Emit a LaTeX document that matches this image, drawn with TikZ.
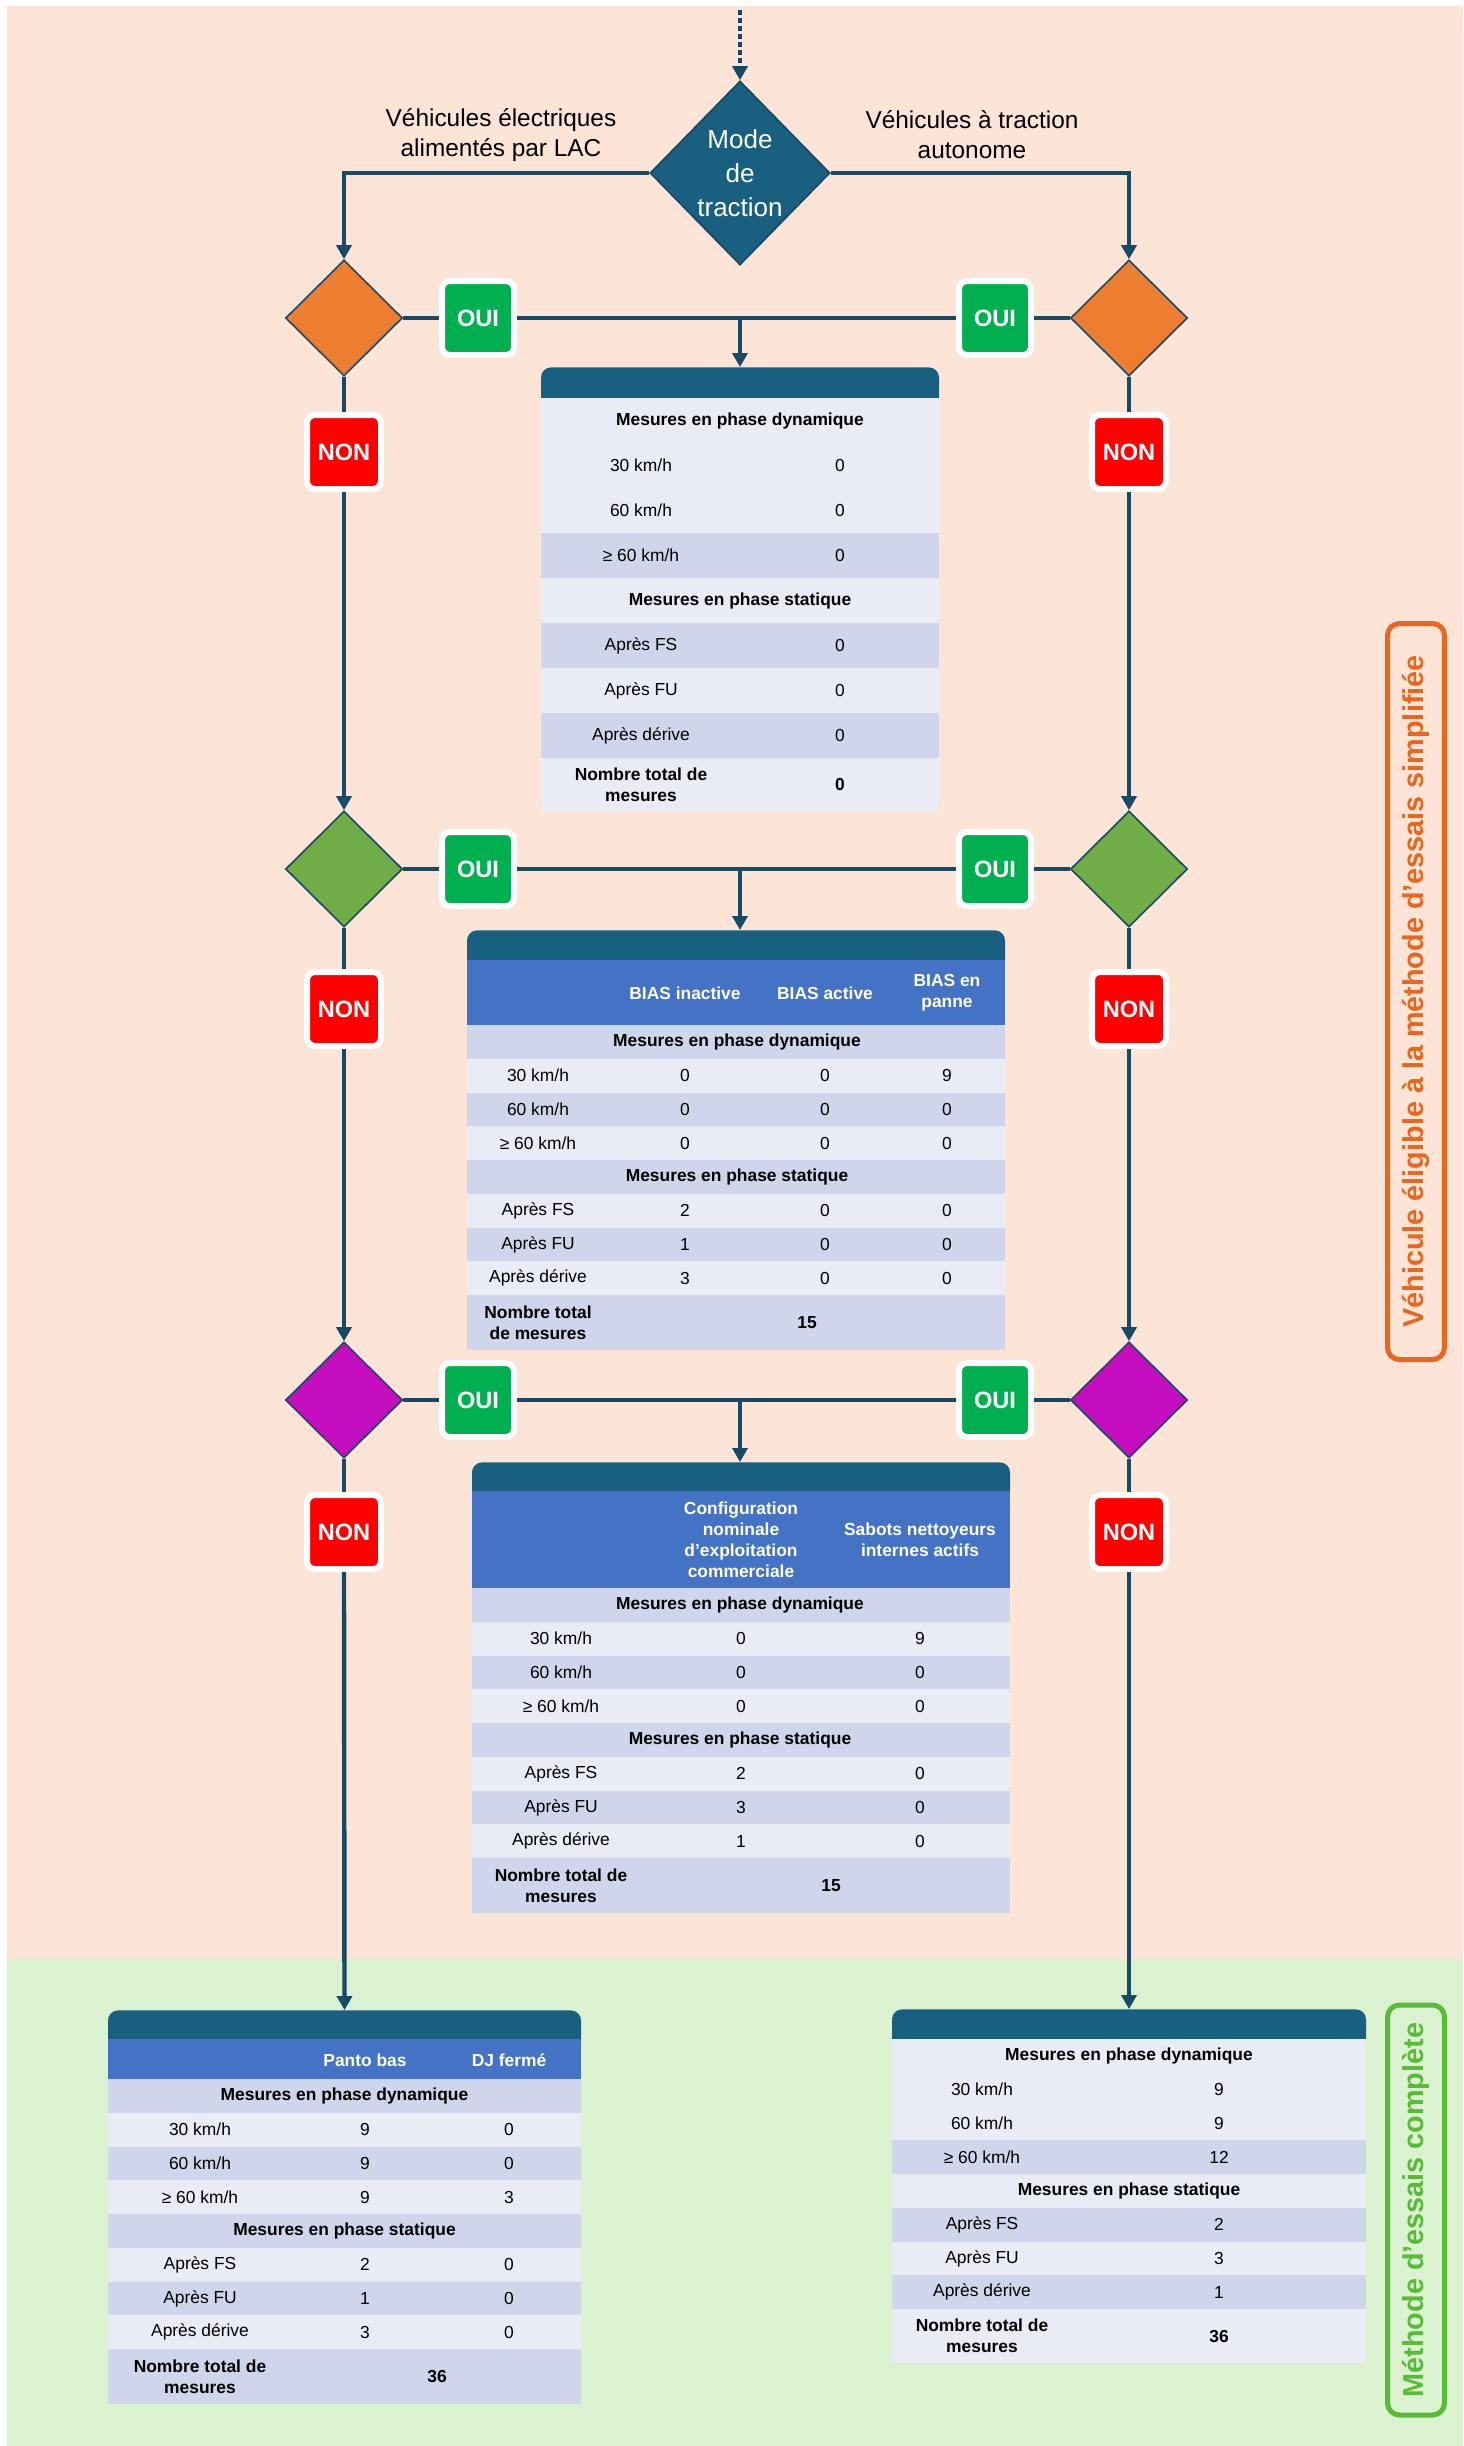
\documentclass[tikz,border=0pt]{standalone}
\usepackage{fontspec}
\setmainfont{Liberation Sans}
\usetikzlibrary{shapes.geometric,arrows.meta}

\definecolor{fondpeche}{RGB}{252,228,214}
\definecolor{fondvert}{RGB}{218,242,208}
\definecolor{trait}{RGB}{22,74,102}
\definecolor{sarcelle}{RGB}{24,95,128}
\definecolor{bleuentete}{RGB}{68,114,196}
\definecolor{ligneclaire}{RGB}{233,235,245}
\definecolor{lignefoncee}{RGB}{207,213,234}
\definecolor{orangelos}{RGB}{237,125,49}
\definecolor{vertlos}{RGB}{112,173,71}
\definecolor{magentalos}{RGB}{197,14,191}
\definecolor{vertoui}{RGB}{0,176,80}
\definecolor{rougenon}{RGB}{255,0,0}
\definecolor{orangecadre}{RGB}{233,102,30}
\definecolor{vertcadre}{RGB}{90,187,57}

\tikzset{
  flux/.style={draw=trait, line width=2.2pt},
  fleche/.style={flux, -{Triangle[length=7pt,width=7.5pt]}},
  losange/.style={diamond, draw=trait, line width=0.8pt, inner sep=0pt, minimum width=58.5pt, minimum height=58pt},
  oui/.style={draw=white, line width=3pt, rounded corners=4pt, fill=vertoui, text=white, inner sep=0pt,
    minimum width=36pt, minimum height=37pt, font=\fontsize{11.8}{14}\selectfont\bfseries},
  non/.style={oui, fill=rougenon, minimum width=37pt},
  entete/.style={fill=sarcelle, rounded corners=5pt, anchor=north, minimum height=20pt, inner sep=0pt},
  txt/.style={font=\fontsize{8.7}{10.5}\selectfont, align=center, inner sep=0pt},
  gras/.style={txt, font=\fontsize{8.7}{10.5}\selectfont\bfseries},
  blanc/.style={gras, text=white},
  cadre/.style={rounded corners=6pt, line width=2.5pt, rotate=90, inner sep=0pt,
    font=\fontsize{14.4}{17}\selectfont\bfseries}
}

\begin{document}
\begin{tikzpicture}[x=0.5pt, y=-0.5pt]
  \useasboundingbox (0,0) rectangle (1463,2446);
  % Fonds
  \fill[fondpeche] (7,6) rectangle (1463,1959);
  \fill[fondvert] (7,1959) rectangle (1463,2446);

  % Mode de traction
  \coordinate (entree) at (740,10);
  \node[losange, fill=sarcelle, minimum width=90pt, minimum height=92pt, text=white, align=center,
    font=\fontsize{13}{17}\selectfont] (mode) at (740,173) {Mode\\de\\traction};
  \node[font=\fontsize{12.2}{15}\selectfont, align=center] (lac) at (501,135) {Véhicules électriques\\alimentés par LAC};
  \node[font=\fontsize{12.2}{15}\selectfont, align=center] (auto) at (972,135) {Véhicules à traction\\autonome};

  % Losanges, OUI, NON
  \node[losange, fill=orangelos] (dL1) at (344,318) {};
  \node[losange, fill=orangelos] (dR1) at (1129,318) {};
  \node[losange, fill=vertlos] (dL2) at (344,869) {};
  \node[losange, fill=vertlos] (dR2) at (1129,869) {};
  \node[losange, fill=magentalos] (dL3) at (344,1400) {};
  \node[losange, fill=magentalos] (dR3) at (1129,1400) {};
  \foreach \y [count=\i] in {318,869,1400} {
    \node[oui] (ouiL\i) at (478,\y) {OUI};
    \node[oui] (ouiR\i) at (995,\y) {OUI};
  }
  \foreach \y [count=\i] in {452,1009,1532} {
    \node[non] (nonL\i) at (344,\y) {NON};
    \node[non] (nonR\i) at (1129,\y) {NON};
  }

  % Tableau 1
  \node[entete, minimum width=199pt] (tab1) at (740,367) {};
  \foreach \couleur [count=\i from 0] in {ligneclaire,ligneclaire,ligneclaire,lignefoncee,ligneclaire,lignefoncee,ligneclaire,lignefoncee}
    \fill[\couleur] (541,398+45*\i) rectangle (939,443+45*\i);
  \fill[ligneclaire] (541,758) rectangle (939,812);
  \node[gras] (t1dyn) at (740,420.5) {Mesures en phase dynamique};
  \node[gras] (t1sta) at (740,600.5) {Mesures en phase statique};
  \foreach \y/\lab/\va [count=\i] in {465.5/{30 km/h}/0, 510.5/{60 km/h}/0, 555.5/{≥ 60 km/h}/0,
      645.5/{Après FS}/0, 690.5/{Après FU}/0, 735.5/{Après dérive}/0} {
    \node[txt] (t1g\i) at (641,\y) {\lab};
    \node[txt] (t1v\i) at (840,\y) {\va};
  }
  \node[gras] (t1tot) at (641,785) {Nombre total de\\mesures};
  \node[gras] (t1som) at (840,785) {0};

  % Tableau 2
  \node[entete, minimum width=269pt] (tab2) at (736,930) {};
  \fill[bleuentete] (467,960) rectangle (1005,1025);
  \foreach \couleur [count=\i from 0] in {lignefoncee,ligneclaire,lignefoncee,ligneclaire,lignefoncee,ligneclaire,lignefoncee,ligneclaire}
    \fill[\couleur] (467,1025+33.75*\i) rectangle (1005,1058.75+33.75*\i);
  \fill[lignefoncee] (467,1295) rectangle (1005,1350);
  \node[blanc] (t2h1) at (685,993) {BIAS inactive};
  \node[blanc] (t2h2) at (825,993) {BIAS active};
  \node[blanc] (t2h3) at (947,993) {BIAS en\\panne};
  \node[gras] (t2dyn) at (737,1041.9) {Mesures en phase dynamique};
  \node[gras] (t2sta) at (737,1176.9) {Mesures en phase statique};
  \foreach \y/\lab/\va/\vb/\vc [count=\i] in {1075.6/{30 km/h}/0/0/9, 1109.4/{60 km/h}/0/0/0, 1143.1/{≥ 60 km/h}/0/0/0,
      1210.6/{Après FS}/2/0/0, 1244.4/{Après FU}/1/0/0, 1278.1/{Après dérive}/3/0/0} {
    \node[txt] (t2g\i) at (538,\y) {\lab};
    \node[txt] (t2a\i) at (685,\y) {\va};
    \node[txt] (t2b\i) at (825,\y) {\vb};
    \node[txt] (t2c\i) at (947,\y) {\vc};
  }
  \node[gras] (t2tot) at (538,1322.5) {Nombre total\\de mesures};
  \node[gras] (t2som) at (807,1322.5) {15};

  % Tableau 3
  \node[entete, minimum width=269pt] (tab3) at (741,1462) {};
  \fill[bleuentete] (472,1491) rectangle (1010,1588);
  \foreach \couleur [count=\i from 0] in {lignefoncee,ligneclaire,lignefoncee,ligneclaire,lignefoncee,ligneclaire,lignefoncee,ligneclaire}
    \fill[\couleur] (472,1588+33.75*\i) rectangle (1010,1621.75+33.75*\i);
  \fill[lignefoncee] (472,1858) rectangle (1010,1913);
  \node[blanc] (t3h1) at (741,1540) {Configuration\\nominale\\d’exploitation\\commerciale};
  \node[blanc] (t3h2) at (920,1540) {Sabots nettoyeurs\\internes actifs};
  \node[gras] (t3dyn) at (740,1604.9) {Mesures en phase dynamique};
  \node[gras] (t3sta) at (740,1739.9) {Mesures en phase statique};
  \foreach \y/\lab/\va/\vb [count=\i] in {1638.6/{30 km/h}/0/9, 1672.4/{60 km/h}/0/0, 1706.1/{≥ 60 km/h}/0/0,
      1773.6/{Après FS}/2/0, 1807.4/{Après FU}/3/0, 1841.1/{Après dérive}/1/0} {
    \node[txt] (t3g\i) at (561,\y) {\lab};
    \node[txt] (t3a\i) at (741,\y) {\va};
    \node[txt] (t3b\i) at (920,\y) {\vb};
  }
  \node[gras] (t3tot) at (561,1885.5) {Nombre total de\\mesures};
  \node[gras] (t3som) at (831,1885.5) {15};

  % Tableau 4
  \node[entete, minimum width=236.5pt] (tab4) at (344.5,2010) {};
  \fill[bleuentete] (108,2039) rectangle (581,2079);
  \foreach \couleur [count=\i from 0] in {lignefoncee,ligneclaire,lignefoncee,ligneclaire,lignefoncee,ligneclaire,lignefoncee,ligneclaire}
    \fill[\couleur] (108,2079+33.75*\i) rectangle (581,2112.75+33.75*\i);
  \fill[lignefoncee] (108,2349) rectangle (581,2404);
  \node[blanc] (t4h1) at (365,2060) {Panto bas};
  \node[blanc] (t4h2) at (509,2060) {DJ fermé};
  \node[gras] (t4dyn) at (344.5,2095.9) {Mesures en phase dynamique};
  \node[gras] (t4sta) at (344.5,2230.9) {Mesures en phase statique};
  \foreach \y/\lab/\va/\vb [count=\i] in {2129.6/{30 km/h}/9/0, 2163.4/{60 km/h}/9/0, 2197.1/{≥ 60 km/h}/9/3,
      2264.6/{Après FS}/2/0, 2298.4/{Après FU}/1/0, 2332.1/{Après dérive}/3/0} {
    \node[txt] (t4g\i) at (200,\y) {\lab};
    \node[txt] (t4a\i) at (365,\y) {\va};
    \node[txt] (t4b\i) at (509,\y) {\vb};
  }
  \node[gras] (t4tot) at (200,2376.5) {Nombre total de\\mesures};
  \node[gras] (t4som) at (437,2376.5) {36};

  % Tableau 5
  \node[entete, minimum width=237pt] (tab5) at (1129,2009) {};
  \foreach \couleur [count=\i from 0] in {ligneclaire,ligneclaire,ligneclaire,lignefoncee,ligneclaire,lignefoncee,ligneclaire,lignefoncee}
    \fill[\couleur] (892,2039+33.75*\i) rectangle (1366,2072.75+33.75*\i);
  \fill[ligneclaire] (892,2309) rectangle (1366,2363);
  \node[gras] (t5dyn) at (1129,2055.9) {Mesures en phase dynamique};
  \node[gras] (t5sta) at (1129,2190.9) {Mesures en phase statique};
  \foreach \y/\lab/\va [count=\i] in {2089.6/{30 km/h}/9, 2123.4/{60 km/h}/9, 2157.1/{≥ 60 km/h}/12,
      2224.6/{Après FS}/2, 2258.4/{Après FU}/3, 2292.1/{Après dérive}/1} {
    \node[txt] (t5g\i) at (982,\y) {\lab};
    \node[txt] (t5v\i) at (1219,\y) {\va};
  }
  \node[gras] (t5tot) at (982,2336) {Nombre total de\\mesures};
  \node[gras] (t5som) at (1219,2336) {36};

  % Cadres lateraux
  \node[cadre, draw=orangecadre, text=orangecadre, minimum width=368pt, minimum height=28.5pt] (simplifiee)
    at (1416,991.5) {Véhicule éligible à la méthode d'essais simplifiée};
  \node[cadre, draw=vertcadre, text=vertcadre, minimum width=205pt, minimum height=28.5pt] (complete)
    at (1416,2210) {Méthode d’essais complète};

  % Liaisons
  \draw[fleche, dash pattern=on 2.5pt off 1.5pt] (entree) -- (mode.north);
  \draw[fleche] (mode.west) -| (dL1.north);
  \draw[fleche] (mode.east) -| (dR1.north);
  \foreach \i/\tab in {1/tab1,2/tab2,3/tab3} {
    \draw[flux] (dL\i.east) -- (ouiL\i.west) (ouiL\i.east) -- (ouiR\i.west) (ouiR\i.east) -- (dR\i.west);
    \draw[fleche] (mode.south |- ouiL\i.east) -- (mode.south |- \tab.north);
    \draw[flux] (dL\i.south) -- (nonL\i.north) (dR\i.south) -- (nonR\i.north);
  }
  \draw[fleche] (nonL1.south) -- (dL2.north);
  \draw[fleche] (nonR1.south) -- (dR2.north);
  \draw[fleche] (nonL2.south) -- (dL3.north);
  \draw[fleche] (nonR2.south) -- (dR3.north);
  \draw[fleche] (nonL3.south) -- (tab4.north);
  \draw[fleche] (nonR3.south) -- (tab5.north);
\end{tikzpicture}
\end{document}
